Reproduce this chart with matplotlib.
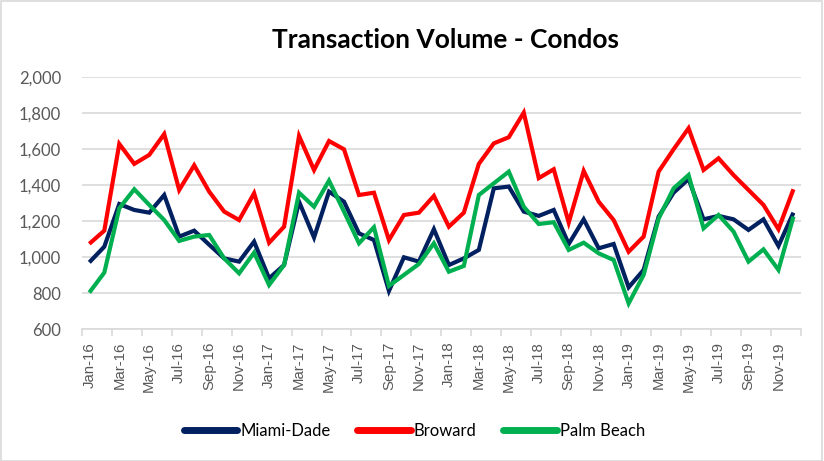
import matplotlib
matplotlib.use("Agg")
import matplotlib.pyplot as plt
from matplotlib.patches import Rectangle

# monthly labels Jan-16 .. Dec-19
months = ["Jan", "Feb", "Mar", "Apr", "May", "Jun",
          "Jul", "Aug", "Sep", "Oct", "Nov", "Dec"]
years = ["16", "17", "18", "19"]
dates = [f"{m}-{y}" for y in years for m in months]

miami_dade = [972, 1059, 1296, 1263, 1248, 1346, 1115, 1148, 1070, 994, 976, 1087,
              883, 957, 1309, 1110, 1365, 1309, 1133, 1096, 813, 1000, 976, 1156,
              957, 994, 1041, 1383, 1393, 1254, 1230, 1263, 1074, 1211, 1050, 1074,
              833, 930, 1226, 1359, 1435, 1211, 1230, 1211, 1152, 1211, 1063, 1248]
broward = [1075, 1148, 1630, 1519, 1569, 1685, 1374, 1511, 1365, 1254, 1207, 1356,
           1081, 1170, 1674, 1485, 1646, 1600, 1346, 1359, 1096, 1235, 1248, 1341,
           1170, 1248, 1519, 1633, 1667, 1804, 1440, 1489, 1193, 1480, 1309, 1207,
           1031, 1115, 1476, 1600, 1717, 1485, 1550, 1457, 1374, 1291, 1156, 1378]
palm_beach = [804, 915, 1272, 1378, 1291, 1207, 1091, 1115, 1124, 994, 911, 1026,
              846, 957, 1359, 1281, 1426, 1254, 1078, 1167, 841, 902, 963, 1078,
              920, 952, 1346, 1411, 1476, 1281, 1185, 1195, 1041, 1081, 1022, 985,
              744, 902, 1215, 1383, 1457, 1161, 1235, 1143, 976, 1044, 930, 1226]

series = [("Miami-Dade", miami_dade, "#002060"),
          ("Broward", broward, "#FF0000"),
          ("Palm Beach", palm_beach, "#00B050")]

TXT = "#595959"
fig = plt.figure(figsize=(8.24, 4.61), dpi=100)
ax = fig.add_axes([0.0993, 0.2857, 0.8727, 0.5466])

x = list(range(len(dates)))
for name, vals, col in series:
    ax.plot(x, vals, color=col, lw=3.0, label=name,
            solid_joinstyle="miter", solid_capstyle="butt")

ax.set_xlim(-0.5, len(dates) - 0.5)
ax.set_ylim(600, 2000)
ax.set_yticks(range(600, 2001, 200))
ax.set_yticklabels([f"{v:,}" for v in range(600, 2001, 200)],
                   fontsize=12, color=TXT, family="Lato")
ax.yaxis.grid(True, color="#d9d9d9", lw=1.2)
ax.set_axisbelow(True)
ax.tick_params(axis="y", length=0, pad=15)

# category ticks between months, labels every other month
ax.set_xticks([i - 0.5 for i in range(0, len(dates) + 1, 2)])
ax.set_xticklabels([])
ax.set_xticks(list(range(0, len(dates), 2)), minor=True)
ax.set_xticklabels(dates[::2], minor=True, rotation=90, fontsize=10.8,
                   color=TXT, family="Liberation Sans")
ax.tick_params(axis="x", which="major", length=5, color="#d9d9d9", width=1.2)
ax.tick_params(axis="x", which="minor", length=0, pad=9)

for s in ("left", "right", "top"):
    ax.spines[s].set_visible(False)
ax.spines["bottom"].set_color("#d9d9d9")
ax.spines["bottom"].set_linewidth(1.2)

fig.text(0.541, 0.913, "Transaction Volume - Condos", ha="center", va="center",
         fontsize=19, fontweight="bold", family="Lato", color="black")

leg = fig.legend(loc="center", bbox_to_anchor=(0.503, 0.065), ncol=3,
                 frameon=False, handlelength=3.2, columnspacing=1.6,
                 handletextpad=0.2, prop={"family": "Lato", "size": 12})
for t in leg.get_texts():
    t.set_color("black")
for h in leg.get_lines():
    h.set_linewidth(5)
    h.set_solid_capstyle("round")

# chart area outline
fig.patches.append(Rectangle((0.001, 0.001), 0.997, 0.996,
                             transform=fig.transFigure, fill=False,
                             edgecolor="#d9d9d9", lw=1.2))

fig.savefig("out.png", dpi=100)
